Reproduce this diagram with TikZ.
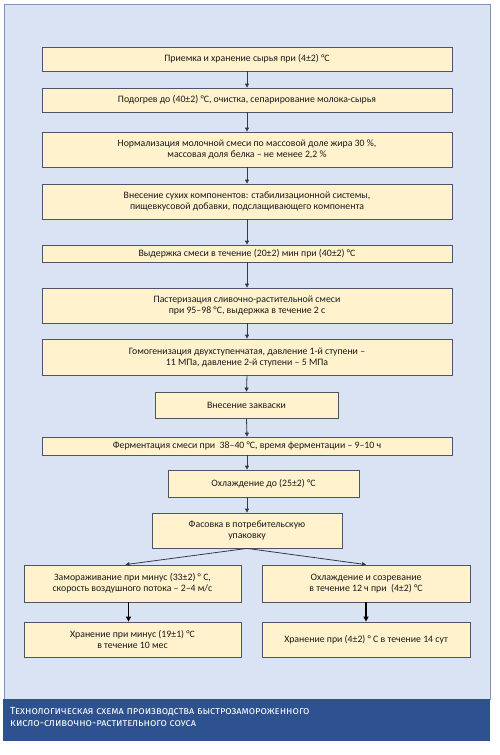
\documentclass[tikz,border=0pt]{standalone}
\usepackage{fontspec}
\setmainfont{Carlito}
\newfontfamily\capfont[Letters=SmallCaps]{Fira Sans}
\usetikzlibrary{arrows.meta}
\definecolor{panelbg}{HTML}{DAE3F3}
\definecolor{panelline}{HTML}{7F93B3}
\definecolor{boxfill}{HTML}{FFF2CC}
\definecolor{boxline}{HTML}{4A5568}
\definecolor{band}{HTML}{2E528F}
\definecolor{arrowc}{HTML}{333B47}
\tikzset{
  x=1pt, y=-1pt,
  stepbox/.style={draw=boxline, line width=0.8pt, fill=boxfill, align=center, inner sep=0pt,
    font=\fontsize{9.8}{11}\selectfont, text=black!90},
  flow/.style={draw=arrowc, line width=0.8pt, -{Triangle[length=4pt,width=4pt]}},
  flowthick/.style={draw=black, line width=1.4pt, -{Triangle[length=5pt,width=5pt]}}
}
\begin{document}
\begin{tikzpicture}
\useasboundingbox (0,0) rectangle (500,755);
\fill[white] (0,0) rectangle (500,755);
\draw[panelline, fill=panelbg, line width=0.8pt] (4,4) rectangle (490,699);
\fill[band] (3,699) rectangle (490,741);
\node[anchor=north west, inner sep=0pt, align=left, text=white,
  font=\capfont\fontsize{10.3}{12}\selectfont] (cap) at (10,707)
  {Технологическая схема производства быстрозамороженного\\кисло-сливочно-растительного соуса};

\node[stepbox, minimum width=410, minimum height=24] (b1) at (247,59) {Приемка и хранение сырья при (4±2) °С};
\node[stepbox, minimum width=410, minimum height=24] (b2) at (247,100) {Подогрев до (40±2) °С, очистка, сепарирование молока-сырья};
\node[stepbox, minimum width=410, minimum height=35] (b3) at (247,149.5) {Нормализация молочной смеси по массовой доле жира 30 \%,\\массовая доля белка – не менее 2,2 \%};
\node[stepbox, minimum width=410, minimum height=35] (b4) at (247,201.5) {Внесение сухих компонентов: стабилизационной системы,\\пищевкусовой добавки, подслащивающего компонента};
\node[stepbox, minimum width=410, minimum height=17] (b5) at (247,253.5) {Выдержка смеси в течение (20±2) мин при (40±2) °С};
\node[stepbox, minimum width=410, minimum height=35] (b6) at (247,305.5) {Пастеризация сливочно-растительной смеси\\при 95–98 °С, выдержка в течение 2 с};
\node[stepbox, minimum width=410, minimum height=36] (b7) at (247,357) {Гомогенизация двухступенчатая, давление 1-й ступени –\\11 МПа, давление 2-й ступени – 5 МПа};
\node[stepbox, minimum width=183, minimum height=26] (b8) at (246.5,405) {Внесение закваски};
\node[stepbox, minimum width=410, minimum height=18] (b9) at (247,446) {Ферментация смеси при \ 38–40 °С, время ферментации – 9–10 ч};
\node[stepbox, minimum width=191, minimum height=27] (b10) at (263.5,483.5) {Охлаждение до (25±2) °С};
\node[stepbox, minimum width=190, minimum height=35] (b11) at (247,530.5) {Фасовка в потребительскую\\упаковку};
\node[stepbox, minimum width=217, minimum height=37] (b12) at (132.5,583.5) {Замораживание при минус (33±2) ° С,\\скорость воздушного потока – 2–4 м/с};
\node[stepbox, minimum width=208, minimum height=37] (b13) at (366,583.5) {Охлаждение и созревание\\в течение 12 ч при \ (4±2) °С};
\node[stepbox, minimum width=217, minimum height=35] (b14) at (132.5,639.5) {Хранение при минус (19±1) °С\\в течение 10 мес};
\node[stepbox, minimum width=208, minimum height=35] (b15) at (366,639.5) {Хранение при (4±2) ° С в течение 14 сут};

\draw[flow] (b1.south) -- (b2.north);
\draw[flow] (b2.south) -- (b3.north);
\draw[flow] (b3.south) -- (b4.north);
\draw[flow] (b4.south) -- (b5.north);
\draw[flow] (b5.south) -- (b6.north);
\draw[flow] (b6.south) -- (b7.north);
\draw[flow] (b7.south) -- (b8.north);
\draw[flow] (b8.south) -- (b9.north);
\draw[flow] (b9.south) -- (b10.north -| b9.south);
\draw[flow] (b10.south -| b9.south) -- (b11.north);
\draw[flow] (b11.south) -- ([xshift=-7pt]b12.north);
\draw[flow] (b11.south) -- (b13.north);
\draw[flowthick] ([xshift=-4pt]b12.south) -- ([xshift=-4pt]b14.north);
\draw[flowthick] (b13.south) -- (b15.north);
\end{tikzpicture}
\end{document}
